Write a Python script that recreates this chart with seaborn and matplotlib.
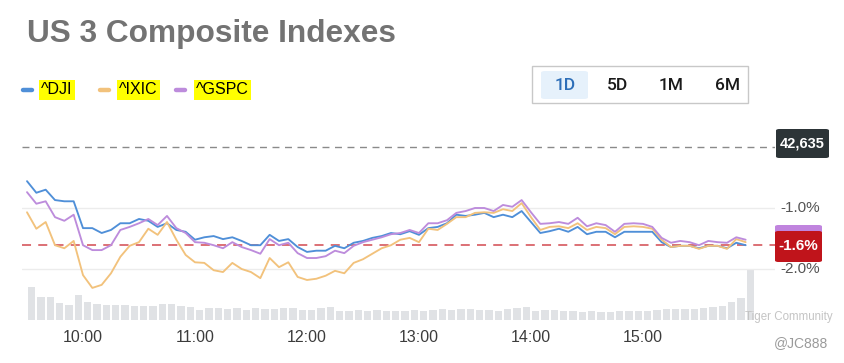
import numpy as np
import pandas as pd
import matplotlib
matplotlib.use("Agg")
import matplotlib.pyplot as plt
import seaborn as sns
from matplotlib.patches import Rectangle, FancyBboxPatch
from matplotlib.lines import Line2D

# ---------------- data ----------------
start_time = "09:30"
step_minutes = 5
dji = [-0.56, -0.75, -0.70, -0.87, -0.89, -0.89, -1.33, -1.33, -1.41, -1.36,
       -1.25, -1.25, -1.18, -1.21, -1.31, -1.25, -1.36, -1.39, -1.52, -1.48,
       -1.46, -1.51, -1.48, -1.54, -1.61, -1.61, -1.44, -1.54, -1.51, -1.64,
       -1.72, -1.70, -1.70, -1.62, -1.66, -1.57, -1.54, -1.49, -1.46, -1.41,
       -1.43, -1.38, -1.44, -1.33, -1.31, -1.25, -1.11, -1.13, -1.11, -1.08,
       -1.15, -1.11, -1.15, -1.05, -1.23, -1.41, -1.38, -1.34, -1.39, -1.31,
       -1.43, -1.39, -1.39, -1.48, -1.39, -1.39, -1.39, -1.39, -1.56, -1.64,
       -1.62, -1.62, -1.66, -1.62, -1.62, -1.66, -1.57, -1.61]
ixic = [-1.07, -1.34, -1.23, -1.61, -1.66, -1.54, -2.10, -2.31, -2.26, -2.07,
        -1.80, -1.62, -1.56, -1.34, -1.44, -1.23, -1.52, -1.77, -1.89, -1.90,
        -2.02, -2.05, -1.90, -2.00, -2.05, -2.15, -1.82, -1.97, -1.89, -2.13,
        -2.18, -2.16, -2.11, -2.03, -2.07, -1.90, -1.84, -1.75, -1.66, -1.61,
        -1.52, -1.49, -1.56, -1.34, -1.36, -1.26, -1.15, -1.15, -1.08, -1.07,
        -1.08, -1.02, -1.05, -0.92, -1.15, -1.36, -1.31, -1.30, -1.33, -1.25,
        -1.36, -1.31, -1.33, -1.43, -1.31, -1.30, -1.31, -1.34, -1.52, -1.64,
        -1.62, -1.62, -1.67, -1.62, -1.62, -1.67, -1.51, -1.56]
gspc = [-0.74, -0.93, -0.89, -1.15, -1.21, -1.11, -1.61, -1.69, -1.69, -1.61,
        -1.36, -1.31, -1.25, -1.18, -1.28, -1.13, -1.33, -1.41, -1.56, -1.57,
        -1.61, -1.66, -1.56, -1.64, -1.69, -1.75, -1.51, -1.61, -1.57, -1.74,
        -1.82, -1.82, -1.79, -1.70, -1.74, -1.62, -1.56, -1.52, -1.48, -1.43,
        -1.41, -1.36, -1.41, -1.25, -1.25, -1.20, -1.08, -1.05, -1.00, -1.00,
        -1.05, -0.95, -0.98, -0.87, -1.07, -1.26, -1.25, -1.23, -1.26, -1.16,
        -1.30, -1.25, -1.28, -1.39, -1.26, -1.25, -1.26, -1.31, -1.49, -1.57,
        -1.54, -1.56, -1.61, -1.54, -1.56, -1.57, -1.48, -1.52]
volume = [33, 23, 23, 17, 15, 25, 18, 16, 15, 15, 15, 14, 14, 14, 16, 16, 14, 13,
          10, 12, 12, 11, 12, 10, 12, 11, 11, 12, 12, 10, 10, 12, 13, 9, 9, 10,
          9, 10, 9, 9, 9, 10, 9, 10, 11, 10, 11, 11, 10, 10, 9, 11, 12, 13, 9,
          10, 10, 9, 9, 8, 9, 8, 8, 9, 9, 9, 9, 10, 11, 11, 11, 11, 12, 13, 14,
          18, 22, 50]
series_names = ["^DJI", "^IXIC", "^GSPC"]
series_colors = ["#4f8fd8", "#f2c27c", "#bd8cdc"]
x_tick_labels = ["10:00", "11:00", "12:00", "13:00", "14:00", "15:00"]
y_tick_values = [-1.0, -2.0]
prev_close_label = "42,635"
prev_close_pct = 0.0
last_pct = -1.6
buttons = ["1D", "5D", "1M", "6M"]

# ---------------- build frame ----------------
n = len(dji)
t0 = pd.Timestamp("2024-01-01 " + start_time)
times = [t0 + pd.Timedelta(minutes=step_minutes * i) for i in range(n)]
minutes = np.array([(t - t0).total_seconds() / 60 for t in times])
df = pd.DataFrame({
    "minute": np.concatenate([minutes] * 3),
    "pct": dji + ixic + gspc,
    "index": np.repeat(series_names, n),
})
tick_minutes = [(pd.Timestamp("2024-01-01 " + s) - t0).total_seconds() / 60 for s in x_tick_labels]

# ---------------- figure ----------------
W, H = 844, 363
sns.set_theme(style="white")
plt.rcParams["font.family"] = ["Liberation Sans", "DejaVu Sans"]
fig = plt.figure(figsize=(W / 100, H / 100), dpi=100)

def fx(px):
    return px / W

def fy(py):
    return 1 - py / H

ax_left, ax_right, ax_top, ax_bot = 22, 775, 135, 322
rect = [fx(ax_left), fy(ax_bot), fx(ax_right) - fx(ax_left), fy(ax_top) - fy(ax_bot)]

# volume axis
axv = fig.add_axes(rect)
px_per_min = 9.333 / 5
xlim = (-(27 - ax_left) / px_per_min, (ax_right - 27) / px_per_min)
axv.bar(minutes + 2.5, volume, width=3.8, color="#e0e2e5", linewidth=0)
axv.set_xlim(*xlim)
axv.set_ylim(-2, ax_bot - ax_top - 2)
axv.axis("off")

# line axis
ax = fig.add_axes(rect)
ax.patch.set_alpha(0)
for v in y_tick_values:
    ax.axhline(v, color="#ececec", lw=1, zorder=0)
ax.axhline(prev_close_pct, color="#8a8a8a", lw=1, ls=(0, (5, 4)), zorder=1)
sns.lineplot(data=df, x="minute", y="pct", hue="index", palette=series_colors,
             hue_order=series_names, linewidth=1.35, legend=False, ax=ax, zorder=3)
ax.axhline(last_pct, color="#d9646a", lw=1.3, ls=(0, (5, 4)), zorder=2)
ppct = 61.0
ax.set_ylim(-1 - (ax_bot - 208) / ppct, -1 + (208 - ax_top) / ppct)
ax.set_xlim(*xlim)
ax.set_xticks(tick_minutes)
ax.set_xticklabels(x_tick_labels, fontsize=11.5, color="#3c3c3c")
ax.tick_params(axis="x", length=0, pad=6)
ax.set_yticks([])
ax.set_xlabel("")
ax.set_ylabel("")
for s in ax.spines.values():
    s.set_visible(False)

# right-side y labels
for v in y_tick_values:
    ax.text(1.0066, v, f"{v:.1f}%", transform=ax.get_yaxis_transform(),
            ha="left", va="center", fontsize=11, color="#555555")

# title
fig.text(fx(27), fy(42), "US 3 Composite Indexes", fontsize=22.8, fontweight="bold",
         color="#737373", ha="left", va="baseline")

# legend with highlighted labels
leg_items = [(22, 41, series_names[0], series_colors[0]),
             (99, 119, series_names[1], series_colors[1]),
             (175, 196, series_names[2], series_colors[2])]
for lx, tx, name, col in leg_items:
    fig.add_artist(Line2D([fx(lx + 1), fx(lx + 10)], [fy(90), fy(90)], color=col,
                          lw=3.2, solid_capstyle="round"))
    fig.text(fx(tx), fy(94.5), name, fontsize=11.5, color="black", ha="left", va="baseline",
             bbox=dict(boxstyle="square,pad=0.15", fc="#ffff00", ec="none"))

# button group
fig.add_artist(Rectangle((fx(532), fy(103)), fx(748) - fx(532), fy(66) - fy(103),
                         fill=False, ec="#c8c8c8", lw=1, transform=fig.transFigure))
fig.add_artist(FancyBboxPatch((fx(541), fy(99)), fx(588) - fx(541), fy(71) - fy(99),
                              boxstyle="round,pad=0,rounding_size=0.005",
                              fc="#e6f1fb", ec="none", transform=fig.transFigure))
for bx, lab in zip([565, 617, 671, 728], buttons):
    fig.text(fx(bx), fy(85), lab, fontsize=12.5, ha="center", va="center",
             family=["Roboto", "DejaVu Sans"], fontweight="medium",
             color="#2d6eb8" if lab == "1D" else "#1a1a1a")

# previous-close label box
fig.add_artist(FancyBboxPatch((fx(776), fy(158)), fx(829) - fx(776), fy(129) - fy(158),
                              boxstyle="round,pad=0,rounding_size=0.004",
                              fc="#2c3437", ec="none", transform=fig.transFigure))
fig.text(fx(780), fy(144), prev_close_label, fontsize=10.5, fontweight="bold",
         color="white", ha="left", va="center")
fig.add_artist(Rectangle((fx(829), fy(165)), fx(844) - fx(829), fy(125) - fy(165),
                         fc="white", ec="none", transform=fig.transFigure, zorder=5))

# last-value label box
fig.add_artist(FancyBboxPatch((fx(775), fy(236)), fx(822) - fx(775), fy(225) - fy(236),
                              boxstyle="round,pad=0,rounding_size=0.004",
                              fc="#c084de", ec="none", transform=fig.transFigure))
fig.add_artist(FancyBboxPatch((fx(775), fy(262)), fx(822) - fx(775), fy(231) - fy(262),
                              boxstyle="round,pad=0,rounding_size=0.004",
                              fc="#c0141b", ec="none", transform=fig.transFigure))
fig.text(fx(798.5), fy(246), f"{last_pct:.1f}%", fontsize=11, fontweight="bold",
         color="white", ha="center", va="center")

# watermark
fig.text(fx(745), fy(317), "Tiger Community", fontsize=8.3, color="#c4c4c4",
         ha="left", va="center")
fig.text(fx(828), fy(343), "@JC888", fontsize=10, color="#9a9a9a", ha="right", va="center")

fig.savefig("out.png", dpi=100)
